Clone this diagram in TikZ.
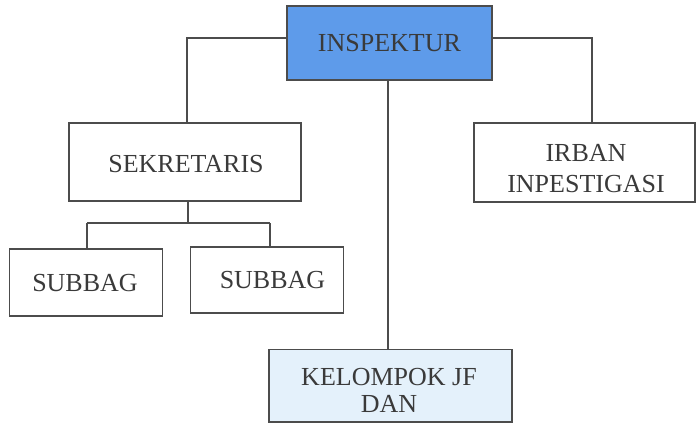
\documentclass[tikz,border=0pt]{standalone}
\usepackage{fontspec}
\setmainfont{Liberation Serif}
\begin{document}
\begin{tikzpicture}[x=1pt,y=-1pt,
  line/.style={draw=linegray, line width=1.7pt},
  unit/.style={draw=linegray, line width=1.7pt, rectangle, inner sep=0pt},
  caption/.style={anchor=base, inner sep=0pt, text=textgray,
    font=\fontsize{26}{30}\selectfont},
]
\definecolor{linegray}{HTML}{4C4C4C}
\definecolor{textgray}{HTML}{3A3A3A}
\definecolor{headblue}{HTML}{5E9BEA}
\definecolor{paleblue}{HTML}{E4F1FB}
\useasboundingbox (0,0) rectangle (699,426);

% boxes of the organisation
\node[unit, fill=headblue, minimum width=205pt, minimum height=74pt] (insp) at (389.5,43) {};
\node[unit, minimum width=232pt, minimum height=78pt] (sekr) at (185,162) {};
\node[unit, minimum width=221pt, minimum height=79pt] (irban) at (584.5,162.5) {};
\node[unit, minimum width=153pt, minimum height=67pt] (sub1) at (86,282.5) {};
\node[unit, minimum width=153pt, minimum height=66pt] (sub2) at (267,280) {};
\node[unit, fill=paleblue, minimum width=243pt, minimum height=72.5pt] (kjf) at (390.5,385.75) {};

% captions, set on their baselines
\node[caption] (inspT) at (389.5,51) {INSPEKTUR};
\node[caption] (sekrT) at (186,172) {SEKRETARIS};
\node[caption] (irbanA) at (586,161) {IRBAN};
\node[caption] (irbanB) at (586,192.3) {INPESTIGASI};
\node[caption] (sub1T) at (85,291.5) {SUBBAG};
\node[caption] (sub2T) at (272.5,288) {SUBBAG};
\node[caption] (kjfA) at (389,385) {KELOMPOK JF};
\node[caption] (kjfB) at (389,412.5) {DAN};

% junction points
\coordinate (lt) at (187,38);
\coordinate (rt) at (592,38);
\coordinate (bus) at (188,223);
\coordinate (busl) at (87,223);
\coordinate (busr) at (270,223);
\coordinate (mid) at (388,0);

% connectors
\draw[line] (insp.west |- lt) -- (lt) -- (lt |- sekr.north);
\draw[line] (insp.east |- rt) -- (rt) -- (rt |- irban.north);
\draw[line] (insp.south -| mid) -- (kjf.north -| mid);
\draw[line] (sekr.south -| bus) -- (bus);
\draw[line] (busl) -- (busr);
\draw[line] (busl) -- (busl |- sub1.north);
\draw[line] (busr) -- (busr |- sub2.north);
\end{tikzpicture}
\end{document}
